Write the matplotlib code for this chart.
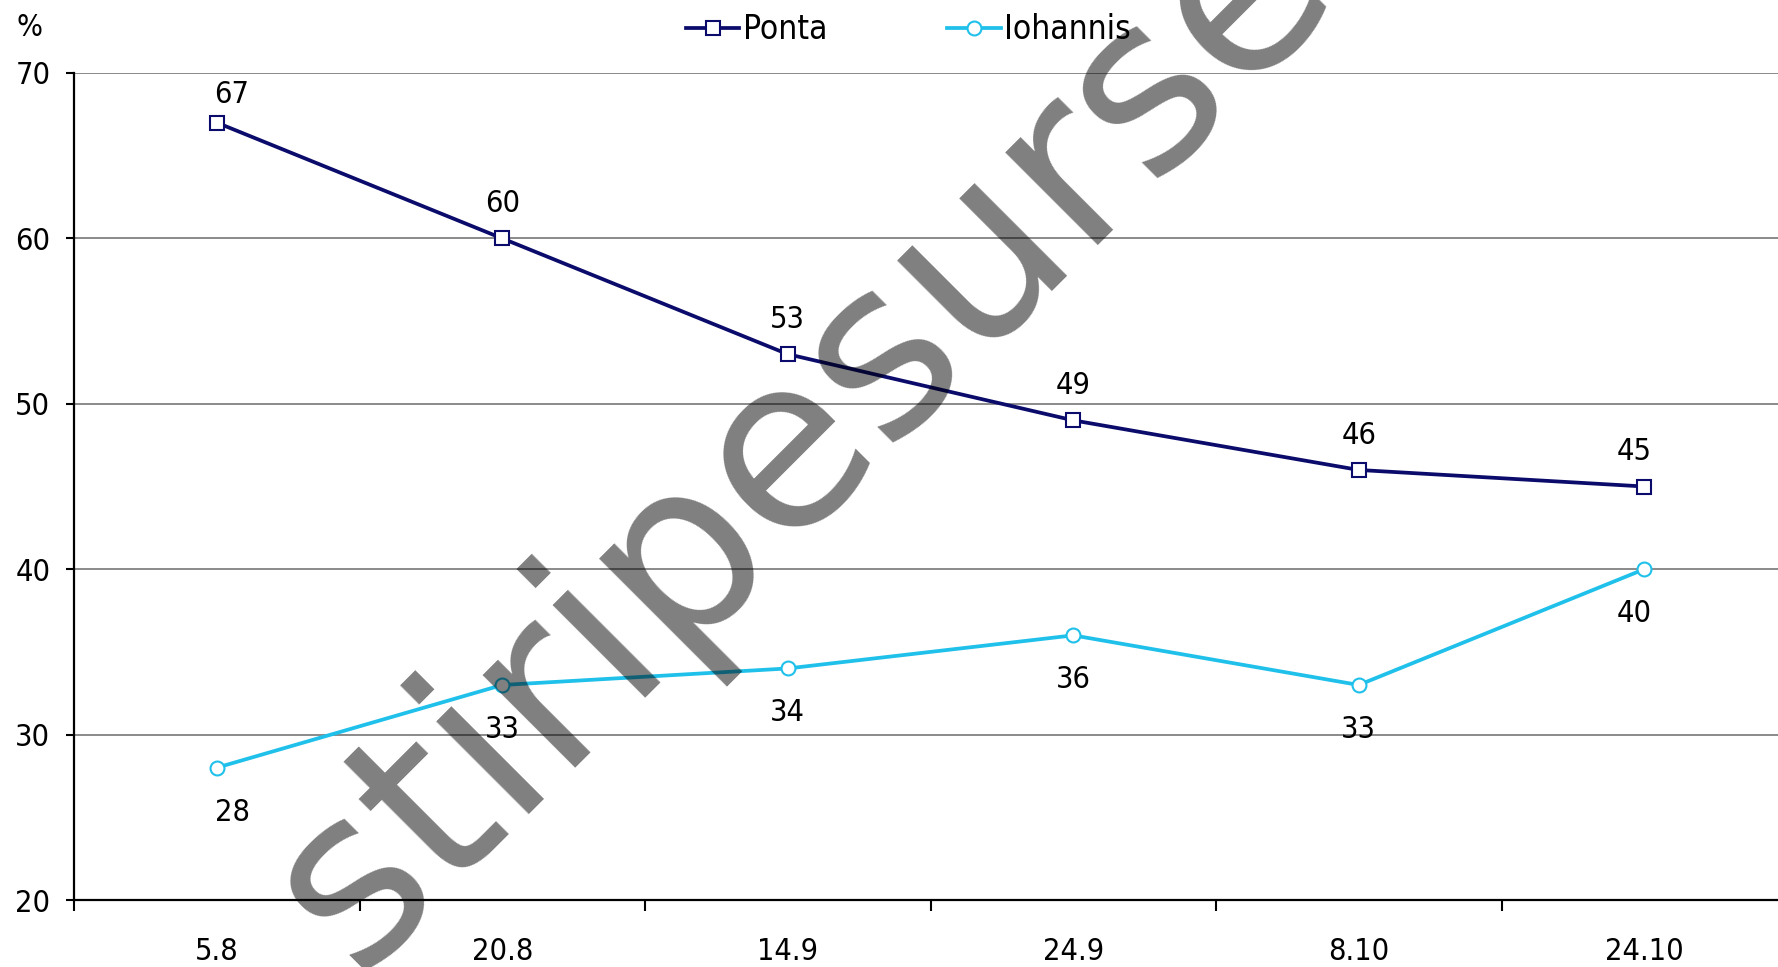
import matplotlib.pyplot as plt
import numpy as np

dates = ['5.8', '20.8', '14.9', '24.9', '8.10', '24.10']
ponta = [67, 60, 53, 49, 46, 45]
iohannis = [28, 33, 34, 36, 33, 40]

plt.rcParams['font.family'] = 'DejaVu Sans'
plt.rcParams['font.stretch'] = 'condensed'

W, H = 1778, 967
fig = plt.figure(figsize=(W / 100, H / 100), dpi=100)
ax = fig.add_axes([74 / W, 1 - 900 / H, 1713 / W, (900 - 73) / H])

x = np.arange(len(dates))
navy = '#0b0b6b'
cyan = '#1fc0ea'
ax.plot(x, ponta, color=navy, lw=2.7, marker='s', ms=10, mfc='white',
        mec=navy, mew=1.5, label='Ponta', zorder=3)
ax.plot(x, iohannis, color=cyan, lw=2.7, marker='o', ms=10, mfc='white',
        mec=cyan, mew=1.5, label='Iohannis', zorder=3)

last = len(dates) - 1
for i, v in enumerate(ponta):
    dx = 11 if i == 0 else (-7 if i == last else 0)
    dy = 20 if i == 0 else 25
    ax.annotate(str(v), (i, v), xytext=(dx, dy), textcoords='offset points',
                ha='center', va='center', fontsize=22)
for i, v in enumerate(iohannis):
    dx = 11 if i == 0 else (-7 if i == last else 0)
    ax.annotate(str(v), (i, v), xytext=(dx, -32), textcoords='offset points',
                ha='center', va='center', fontsize=22)

ax.set_xlim(-0.5, len(dates) - 0.5)
ax.set_ylim(20, 70)
ax.set_yticks(range(20, 71, 10))

# ticks between categories, labels centred on categories
ax.set_xticks(np.arange(-0.5, len(dates), 1))
ax.set_xticklabels([])
ax.set_xticks(x, minor=True)
ax.set_xticklabels(dates, minor=True)
ax.tick_params(axis='x', which='major', length=8, width=1.5, direction='out')
ax.tick_params(axis='x', which='minor', length=0, pad=27, labelsize=22)
ax.tick_params(axis='y', length=6, width=1.5, pad=11, labelsize=22)

ax.grid(axis='y', color='#8a8a8a', lw=1.4)
ax.set_axisbelow(True)
for s in ['top', 'right']:
    ax.spines[s].set_visible(False)
for s in ['left', 'bottom']:
    ax.spines[s].set_linewidth(1.6)
    ax.spines[s].set_color('black')

fig.legend(loc='center left', bbox_to_anchor=(0.369, 0.969), ncol=2,
           frameon=False, fontsize=24, handlelength=1.6, handletextpad=0.1,
           columnspacing=3.6)

fig.text(29 / W, 1 - 27 / H, '%', ha='center', va='center', fontsize=22)

# watermark
fig.text(0.200, -0.008, 'stiripesurse.ro', rotation=45, rotation_mode='anchor',
         ha='left', va='baseline', fontsize=172, fontstretch='normal',
         color='black', alpha=0.5, zorder=10)

fig.savefig('out.png', dpi=100)
